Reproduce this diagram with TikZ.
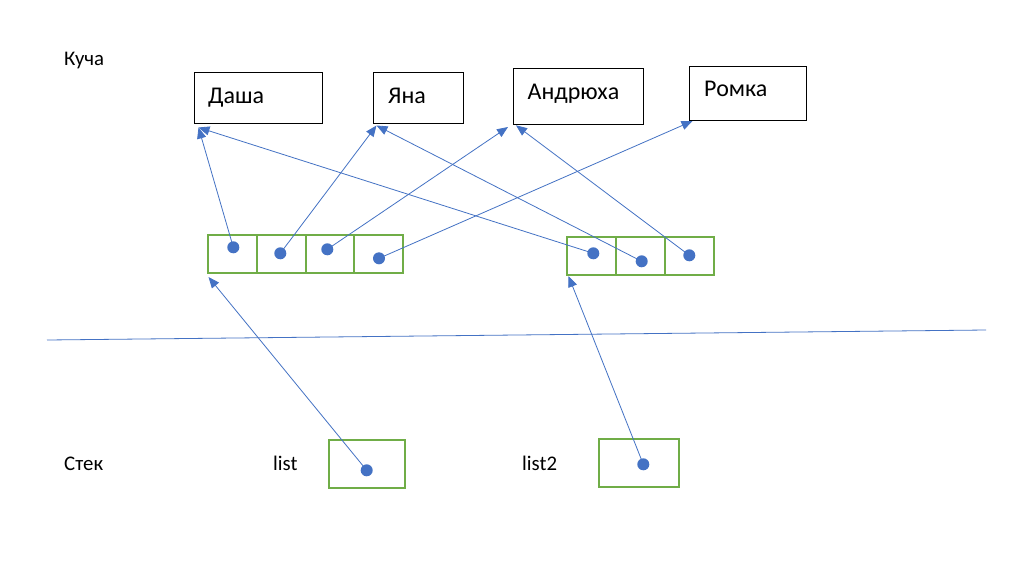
\documentclass[tikz,border=0pt]{standalone}
\usepackage{fontspec}
\setmainfont{Carlito}
\usetikzlibrary{arrows.meta}
\definecolor{oblue}{HTML}{4472C4}
\definecolor{ogreen}{HTML}{70AD47}
\tikzset{
  heapbox/.style={draw=black,line width=1pt,anchor=north west,inner sep=0pt},
  cellbox/.style={draw=ogreen,line width=1.8pt,anchor=north west,inner sep=0pt,minimum width=48.7pt,minimum height=38pt},
  bigtxt/.style={anchor=base west,inner sep=0pt,font=\fontsize{24}{28}\selectfont},
  smalltxt/.style={anchor=base west,inner sep=0pt,font=\fontsize{20.8}{24}\selectfont},
  dotnode/.style={circle,fill=oblue,inner sep=0pt,minimum size=12pt},
  conn/.style={draw=oblue,line width=0.8pt,-{Triangle[length=11pt,width=9pt]}}
}
\begin{document}
\begin{tikzpicture}[x=1pt,y=-1pt]
\useasboundingbox[fill=white] (0,0) rectangle (1015,568);
% labels
\node[smalltxt] (kucha) at (64,65) {Куча};
\node[smalltxt] (stek) at (64,470) {Стек};
\node[smalltxt] (llist) at (273,470.7) {list};
\node[smalltxt] (llist2) at (522,470.7) {list2};
% heap boxes
\node[heapbox,minimum width=127.4pt,minimum height=51.6pt] (bDa) at (194.3,71.7) {};
\node[heapbox,minimum width=90pt,minimum height=51.6pt] (bYa) at (373.3,71.7) {};
\node[heapbox,minimum width=130pt,minimum height=56pt] (bAn) at (512.7,68.3) {};
\node[heapbox,minimum width=116.7pt,minimum height=54.3pt] (bRo) at (689.3,65.7) {};
\node[bigtxt] (tDasha) at (208,103.3) {Даша};
\node[bigtxt] (tYana) at (388,103.3) {Яна};
\node[bigtxt] (tAndr) at (527.5,99.3) {Андрюха};
\node[bigtxt] (tRomka) at (704,96.7) {Ромка};
% arrays
\node[cellbox] (a1) at (207.3,233.7) {};
\node[cellbox] (a2) at (256,233.7) {};
\node[cellbox] (a3) at (304.7,233.7) {};
\node[cellbox] (a4) at (353.4,233.7) {};
\node[cellbox,minimum width=49.1pt] (c1) at (565.7,235.7) {};
\node[cellbox,minimum width=49.1pt] (c2) at (614.8,235.7) {};
\node[cellbox,minimum width=49.1pt] (c3) at (663.9,235.7) {};
% stack boxes
\node[cellbox,minimum width=76.3pt,minimum height=47.7pt] (sl) at (327.7,439) {};
\node[cellbox,minimum width=80.3pt,minimum height=48pt] (sl2) at (597.7,438) {};
% arrow tips
\coordinate (pDa) at (198.5,127.5);
\coordinate (pYa) at (376.5,125.5);
\coordinate (pAn1) at (508,127);
\coordinate (pAn2) at (516,125.3);
\coordinate (pRo) at (692.5,121);
\coordinate (pA1) at (208.5,277);
\coordinate (pA2) at (568.5,276);
% separator
\coordinate (hl) at (47,340);
\coordinate (hr) at (986,330);
\draw[draw=oblue,line width=0.8pt] (hl) -- (hr);
% dots
\node[dotnode] (d1) at (233.3,247.3) {};
\node[dotnode] (d2) at (280.3,253.3) {};
\node[dotnode] (d3) at (327.3,249.3) {};
\node[dotnode] (d4) at (379,258.3) {};
\node[dotnode] (e1) at (593.3,253.3) {};
\node[dotnode] (e2) at (641.7,261.3) {};
\node[dotnode] (e3) at (689.3,255.3) {};
\node[dotnode] (s1) at (366.7,470.3) {};
\node[dotnode] (s2) at (643.3,464.3) {};
% connectors
\draw[conn] (d1.center) -- (pDa);
\draw[conn] (e1.center) -- (pDa);
\draw[conn] (d2.center) -- (pYa);
\draw[conn] (e2.center) -- (pYa);
\draw[conn] (d3.center) -- (pAn1);
\draw[conn] (e3.center) -- (pAn2);
\draw[conn] (d4.center) -- (pRo);
\draw[conn] (s1.center) -- (pA1);
\draw[conn] (s2.center) -- (pA2);
\end{tikzpicture}
\end{document}
